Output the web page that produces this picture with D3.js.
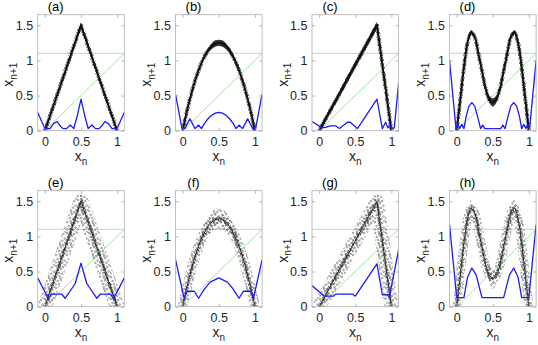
<!DOCTYPE html>
<html><head><meta charset="utf-8">
<script src="https://cdn.jsdelivr.net/npm/d3@7"></script>
<style>
body{margin:0;background:#fff}
svg{display:block}
text{font-family:"Liberation Sans",Arial,Helvetica,sans-serif}
</style>
</head><body>
<svg id="c" width="538" height="345"></svg>
<script>
// ---------------- data ----------------
const panelLabels = ["(a)","(b)","(c)","(d)","(e)","(f)","(g)","(h)"];
const xTicks = [0, 0.5, 1];
const yTicks = [0, 0.5, 1, 1.5];
const xDomain = [-0.1, 1.1];
const yDomain = [0, 1.65];
const thresholdLevel = 1.1;
const diagonalRange = [0, 1.1];

// black scatter: centre curve (x, y) and vertical half-spread of the points
const tentX = [0, 0.5, 1];
const tentY = [0, 1.5, 0];
const skewX = [0, 0.8, 1];
const skewY = [0, 1.5, 0];
const gridX = [0,0.05,0.1,0.15,0.2,0.25,0.3,0.35,0.4,0.45,0.5,0.55,0.6,0.65,0.7,0.75,0.8,0.85,0.9,0.95,1];
const logisticY = [0,0.24,0.45,0.64,0.8,0.94,1.05,1.14,1.2,1.24,1.25,1.24,1.2,1.14,1.05,0.94,0.8,0.64,0.45,0.24,0];
const bimodalY = [0,0.45,0.9,1.25,1.4,1.33,1.1,0.85,0.6,0.45,0.4,0.45,0.6,0.85,1.1,1.33,1.4,1.25,0.9,0.45,0];

const spreadA = [0.02,0.04,0.02];
const spreadB = [0.01,0.01,0.01,0.015,0.02,0.025,0.03,0.035,0.04,0.045,0.045,0.045,0.04,0.035,0.03,0.025,0.02,0.015,0.01,0.01,0.01];
const spreadC = [0.04,0.05,0.02];
const spreadD = [0.01,0.01,0.01,0.02,0.03,0.03,0.02,0.02,0.03,0.05,0.06,0.05,0.03,0.02,0.02,0.03,0.03,0.02,0.01,0.01,0.01];
const spreadE = [0.06,0.1,0.06];
const spreadF = [0.02,0.03,0.04,0.05,0.07,0.09,0.11,0.13,0.14,0.15,0.15,0.15,0.14,0.13,0.11,0.09,0.07,0.05,0.04,0.03,0.02];
const spreadG = [0.06,0.1,0.04];
const spreadH = [0.02,0.03,0.05,0.08,0.12,0.12,0.08,0.06,0.08,0.12,0.15,0.12,0.08,0.06,0.08,0.12,0.12,0.08,0.05,0.03,0.02];

// blue curves [x, y]
const blueA = [[-0.1,0.26],[0,0.03],[0.07,0.03],[0.12,0.1],[0.17,0.13],[0.21,0.07],[0.25,0.03],[0.3,0.03],[0.35,0.08],[0.4,0.03],[0.45,0.22],[0.5,0.45],[0.55,0.22],[0.6,0.03],[0.65,0.08],[0.7,0.03],[0.75,0.03],[0.79,0.07],[0.83,0.13],[0.88,0.1],[0.93,0.03],[1,0.03],[1.1,0.26]];
const blueB = [[-0.1,0.52],[-0.01,0.03],[0.03,0.03],[0.1,0.17],[0.17,0.03],[0.22,0.08],[0.26,0.03],[0.3,0.1],[0.35,0.17],[0.4,0.22],[0.45,0.25],[0.5,0.26],[0.55,0.25],[0.6,0.22],[0.65,0.17],[0.7,0.1],[0.74,0.03],[0.78,0.08],[0.83,0.03],[0.9,0.17],[0.97,0.03],[1.01,0.03],[1.1,0.52]];
const blueC = [[-0.1,0.13],[0.04,0.04],[0.1,0.05],[0.155,0.07],[0.225,0.07],[0.28,0.03],[0.39,0.12],[0.43,0.12],[0.53,0.03],[0.8,0.45],[0.875,0.03],[0.92,0.12],[0.95,0.04],[0.98,0.08],[1.02,0.03],[1.04,0.04],[1.1,0.67]];
const blueD = [[-0.1,1.0],[-0.01,0.03],[0.02,0.09],[0.04,0.03],[0.07,0.09],[0.1,0.03],[0.13,0.2],[0.17,0.35],[0.21,0.4],[0.25,0.35],[0.29,0.2],[0.33,0.03],[0.36,0.08],[0.39,0.03],[0.61,0.03],[0.64,0.08],[0.67,0.03],[0.71,0.2],[0.75,0.35],[0.79,0.4],[0.83,0.35],[0.87,0.2],[0.9,0.03],[0.93,0.09],[0.96,0.03],[0.98,0.09],[1.01,0.03],[1.1,1.0]];
const blueE = [[-0.1,0.41],[0.05,0.11],[0.09,0.18],[0.23,0.18],[0.28,0.12],[0.42,0.33],[0.5,0.62],[0.58,0.33],[0.72,0.12],[0.77,0.18],[0.91,0.18],[0.95,0.11],[1.1,0.41]];
const blueF = [[-0.1,0.67],[0.02,0.12],[0.06,0.22],[0.16,0.22],[0.22,0.12],[0.3,0.25],[0.38,0.35],[0.5,0.41],[0.62,0.35],[0.7,0.25],[0.78,0.12],[0.84,0.22],[0.94,0.22],[0.98,0.12],[1.1,0.67]];
const blueG = [[-0.1,0.3],[0.07,0.15],[0.2,0.15],[0.23,0.18],[0.46,0.18],[0.5,0.15],[0.8,0.61],[0.875,0.17],[0.95,0.17],[0.97,0.13],[1.1,0.81]];
const blueH = [[-0.1,1.17],[0,0.13],[0.1,0.13],[0.15,0.42],[0.21,0.55],[0.27,0.45],[0.35,0.13],[0.65,0.13],[0.73,0.45],[0.79,0.55],[0.85,0.42],[0.9,0.13],[1,0.13],[1.1,1.17]];

// ---------------- layout / style ----------------
const colLeft = [37.7, 175.5, 312, 449.5];
const rowTop = [14.7, 190.7];
const plotW = 86.6, plotH = 116;

const panels = [
  {mx:tentX, my:tentY, sp:spreadA, blue:blueA, smooth:false, outer:0},
  {mx:gridX, my:logisticY, sp:spreadB, blue:blueB, smooth:true, outer:0},
  {mx:skewX, my:skewY, sp:spreadC, blue:blueC, smooth:false, outer:0},
  {mx:gridX, my:bimodalY, sp:spreadD, blue:blueD, smooth:true, outer:0},
  {mx:tentX, my:tentY, sp:spreadE, blue:blueE, smooth:false, outer:15},
  {mx:gridX, my:logisticY, sp:spreadF, blue:blueF, smooth:true, outer:10},
  {mx:skewX, my:skewY, sp:spreadG, blue:blueG, smooth:false, outer:14},
  {mx:gridX, my:bimodalY, sp:spreadH, blue:blueH, smooth:true, outer:9}
];

const svg = d3.select("#c");
const defs = svg.append("defs");
// fine speckle for the dense clouds
const pd = defs.append("pattern").attr("id","pDense").attr("patternUnits","userSpaceOnUse").attr("width",5).attr("height",5);
[[0.8,0.9],[3.1,0.4],[2.0,2.4],[4.3,2.9],[0.6,3.9],[3.0,4.4]].forEach(c=>{
  pd.append("circle").attr("cx",c[0]).attr("cy",c[1]).attr("r",0.75).attr("fill","#1a1a1a");
});
// sparse open markers for the noisy clouds
const ps = defs.append("pattern").attr("id","pSparse").attr("patternUnits","userSpaceOnUse").attr("width",11).attr("height",11);
[[1,2],[4.6,0.9],[8.2,3.1],[2.6,6.1],[6.1,5.2],[9.6,7.6],[4.1,9.1],[7.3,9.8],[0.7,9.4],[5.2,3.0],[10.3,0.6]].forEach(c=>{
  ps.append("circle").attr("cx",c[0]).attr("cy",c[1]).attr("r",0.85).attr("fill","none").attr("stroke","#555").attr("stroke-width",0.55);
});

panels.forEach((p,i)=>{
  const row = Math.floor(i/4), col = i%4;
  const L = colLeft[col], T = rowTop[row];
  const x = d3.scaleLinear().domain(xDomain).range([L, L+plotW]);
  const y = d3.scaleLinear().domain(yDomain).range([T+plotH, T]);
  const g = svg.append("g");
  defs.append("clipPath").attr("id","clip"+i).append("rect").attr("x",L).attr("y",T).attr("width",plotW).attr("height",plotH);
  const inner = g.append("g").attr("clip-path",`url(#clip${i})`);

  inner.append("line").attr("x1",x(xDomain[0])).attr("x2",x(xDomain[1]))
    .attr("y1",y(thresholdLevel)).attr("y2",y(thresholdLevel))
    .attr("stroke","#c4c4c4").attr("stroke-width",0.8);
  inner.append("line").attr("x1",x(diagonalRange[0])).attr("y1",y(diagonalRange[0]))
    .attr("x2",x(diagonalRange[1])).attr("y2",y(diagonalRange[1]))
    .attr("stroke","#8fe88f").attr("stroke-width",0.9);

  const pts = p.mx.map((v,k)=>({x:v, y:p.my[k], s:p.sp[k]}));
  const curve = p.smooth ? d3.curveCatmullRom : d3.curveLinear;
  const line = d3.line().x(d=>x(d.x)).y(d=>y(d.y)).curve(curve);
  const area = d3.area().x(d=>x(d.x)).y0(d=>y(d.y-d.s)).y1(d=>y(d.y+d.s)).curve(curve);

  if (row === 0) {
    inner.append("path").attr("d",area(pts)).attr("fill","#1a1a1a").attr("opacity",0.85);
    inner.append("path").attr("d",line(pts)).attr("fill","none").attr("stroke","url(#pDense)").attr("stroke-width",4).attr("stroke-linejoin","round");
    inner.append("path").attr("d",line(pts)).attr("fill","none").attr("stroke","#111").attr("stroke-width",2).attr("stroke-linejoin","round");
  } else {
    inner.append("path").attr("d",line(pts)).attr("fill","none").attr("stroke","url(#pSparse)").attr("stroke-width",p.outer).attr("stroke-linejoin","round");
    inner.append("path").attr("d",area(pts)).attr("fill","url(#pSparse)");
    inner.append("path").attr("d",line(pts)).attr("fill","none").attr("stroke","url(#pDense)").attr("stroke-width",3.5).attr("stroke-linejoin","round").attr("opacity",0.75);
    inner.append("path").attr("d",line(pts)).attr("fill","none").attr("stroke","#222").attr("stroke-width",0.9).attr("stroke-linejoin","round");
  }

  inner.append("path").attr("d",d3.line().x(d=>x(d[0])).y(d=>y(d[1]))(p.blue))
    .attr("fill","none").attr("stroke","#1a1aff").attr("stroke-width",1.3).attr("stroke-linejoin","round");

  // frame
  g.append("rect").attr("x",L).attr("y",T).attr("width",plotW).attr("height",plotH)
    .attr("fill","none").attr("stroke","#b0b0b0").attr("stroke-width",0.8);

  const styleAxis = (sel)=>{
    sel.select(".domain").remove();
    sel.selectAll(".tick line").attr("stroke","#9a9a9a").attr("stroke-width",0.7);
    sel.selectAll(".tick text").attr("fill","#262626").attr("font-size",12.5).attr("font-family","'Liberation Sans',Arial,sans-serif");
  };
  g.append("g").attr("transform",`translate(0,${T+plotH})`)
    .call(d3.axisBottom(x).tickValues(xTicks).tickFormat(d3.format("~g")).tickSize(-3).tickPadding(6)).call(styleAxis);
  g.append("g").attr("transform",`translate(0,${T})`)
    .call(d3.axisTop(x).tickValues(xTicks).tickFormat("").tickSize(-3)).call(styleAxis);
  g.append("g").attr("transform",`translate(${L},0)`)
    .call(d3.axisLeft(y).tickValues(yTicks).tickFormat(d3.format("~g")).tickSize(-3).tickPadding(4.5)).call(styleAxis);
  g.append("g").attr("transform",`translate(${L+plotW},0)`)
    .call(d3.axisRight(y).tickValues(yTicks).tickFormat("").tickSize(-3)).call(styleAxis);

  // title
  g.append("text").attr("x",L+18).attr("y",T-4).attr("text-anchor","middle")
    .attr("font-size",13).attr("fill","#000").text(panelLabels[i]);

  // x label
  const xl = g.append("text").attr("x",L+plotW/2).attr("y",T+plotH+30.5).attr("text-anchor","middle")
    .attr("font-size",14).attr("fill","#262626");
  xl.append("tspan").text("x");
  xl.append("tspan").attr("font-size",10).attr("dy",3.5).text("n");

  // y label
  const yl = g.append("text").attr("transform",`translate(${L-24.5},${T+plotH/2+2}) rotate(-90)`)
    .attr("text-anchor","middle").attr("font-size",14).attr("fill","#262626");
  yl.append("tspan").text("x");
  yl.append("tspan").attr("font-size",10).attr("dy",3.5).text("n+1");
});
</script>
</body></html>
